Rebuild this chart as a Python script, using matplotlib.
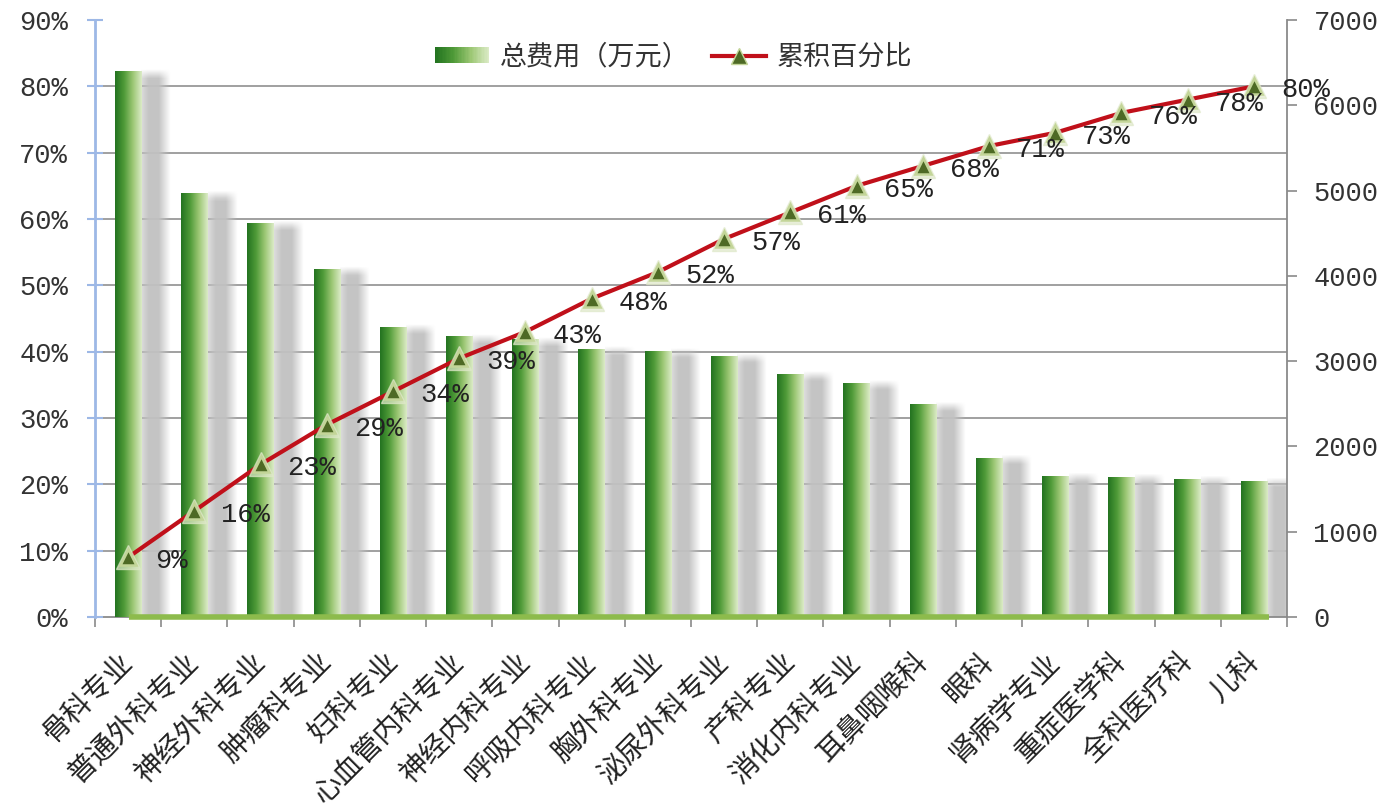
import matplotlib
matplotlib.use("Agg")
import matplotlib.pyplot as plt
import numpy as np
from matplotlib.colors import LinearSegmentedColormap
from matplotlib.patches import Rectangle
from matplotlib.lines import Line2D
from matplotlib.legend_handler import HandlerBase
from matplotlib.ticker import FuncFormatter

plt.rcParams['font.family'] = ['Liberation Mono', 'Noto Sans CJK SC', 'DejaVu Sans']

departments = ['骨科专业', '普通外科专业', '神经外科专业', '肿瘤科专业', '妇科专业',
               '心血管内科专业', '神经内科专业', '呼吸内科专业', '胸外科专业', '泌尿外科专业',
               '产科专业', '消化内科专业', '耳鼻咽喉科', '眼科', '肾病学专业',
               '重症医学科', '全科医疗科', '儿科']
cost = [6394, 4968, 4616, 4080, 3400, 3283, 3248, 3142, 3111, 3060,
        2845, 2740, 2486, 1860, 1645, 1633, 1614, 1594]
cum_pct = [9, 16, 23, 29, 34, 39, 43, 48, 52, 57, 61, 65, 68, 71, 73, 76, 78, 80]

bar_cmap = LinearSegmentedColormap.from_list(
    'bar', ['#237320', '#4f9a38', '#9cc774', '#dbebc6'])


class GradientHandler(HandlerBase):
    def create_artists(self, legend, orig_handle, xdescent, ydescent,
                       width, height, fontsize, trans):
        n = 40
        out = []
        for i in range(n):
            r = Rectangle((-xdescent + i * width / n, -ydescent), width / n * 1.05,
                          height, facecolor=bar_cmap(i / (n - 1)), lw=0,
                          transform=trans)
            out.append(r)
        return out


fig = plt.figure(figsize=(13.89, 8.07), dpi=100)
ax = fig.add_axes([0.0684, 0.2354, 0.8582, 0.7398])
ax2 = ax.twinx()

x = np.arange(len(departments))
bw = 0.4
ymax = 7000

# gradient for bars, soft grey shadow on their right
grad = np.linspace(0, 1, 64).reshape(1, -1)
for xi, h in zip(x, cost):
    ax.imshow(grad, extent=(xi - bw / 2, xi + bw / 2, 0, h), aspect='auto',
              cmap=bar_cmap, zorder=3, interpolation='bicubic')
    ny, nx = 120, 40
    top = h + 45
    rgba = np.ones((ny, nx, 4))
    rgba[..., :3] = 0.76
    hx = np.linspace(0, 1, nx)
    ax_alpha = np.clip(np.minimum(0.6 + hx * 1.6, (1 - hx) / 0.4), 0, 1)
    yy = np.linspace(top, 0, ny)
    ramp = np.clip((top - yy) / 110, 0, 1)
    rgba[..., 3] = 0.95 * ramp[:, None] * ax_alpha[None, :]
    ax.imshow(rgba, extent=(xi + bw / 2, xi + bw / 2 + 0.44, 0, top),
              aspect='auto', zorder=2, interpolation='bilinear')
ax.bar(x, cost, width=bw, color='none', lw=0, zorder=3)

# green floor under the bars
ax.plot([0.02, len(x) - 1 + 0.22], [0, 0], color='#8dbb4c', lw=4,
        solid_capstyle='butt', zorder=4, clip_on=False)

ax.set_xlim(-0.5, len(x) - 0.5)
ax.set_ylim(0, ymax)
ax.set_yticks(np.arange(0, ymax + 1, 1000))
ax.yaxis.tick_right()
ax.set_yticks(np.linspace(0, ymax, 10), minor=True)
ax.grid(which='minor', axis='y', color='#a0a0a0', lw=1.4, zorder=1)
ax.tick_params(axis='y', which='minor', length=0, right=False)
ax.tick_params(axis='y', which='major', direction='out', length=7, width=1.2,
               color='#8a8a8a', labelsize=19.5, labelcolor='#333333', pad=12)

ax.set_xticks(x)
ax.set_xticklabels(departments, rotation=45, ha='right', va='center',
                   rotation_mode='anchor', family=['Noto Sans CJK SC'],
                   fontsize=20.5, color='#222222')
ax.set_xticks(np.arange(-0.5, len(x), 1), minor=True)
ax.tick_params(axis='x', which='major', length=0, pad=29)
ax.tick_params(axis='x', which='minor', direction='out', length=7, width=1.2,
               color='#8a8a8a')

ax.spines['top'].set_visible(False)
ax.spines['left'].set_color('#9db8e6')
ax.spines['left'].set_linewidth(2)
ax.spines['right'].set_color('#8a8a8a')
ax.spines['right'].set_linewidth(1.3)
ax.spines['bottom'].set_color('#8a8a8a')
ax.spines['bottom'].set_linewidth(1.3)

# cumulative share on the left axis
ax2.plot(x, cum_pct, color='#c0101a', lw=3, zorder=5)
ax2.plot(x, cum_pct, ls='none', marker='^', ms=17, color='#dfe8c9',
         alpha=0.7, zorder=6)
ax2.plot(x, cum_pct, ls='none', marker='^', ms=11, markerfacecolor='#4e6a25',
         markeredgecolor='#c3d598', markeredgewidth=1.8, zorder=7)
for xi, p in zip(x, cum_pct):
    ax2.annotate(f'{p}%', (xi, p), xytext=(27, -4), textcoords='offset pixels',
                 ha='left', va='center', fontsize=19.5, color='#222222',
                 zorder=8)

ax2.set_ylim(0, 90)
ax2.set_yticks(np.arange(0, 91, 10))
ax2.yaxis.set_major_formatter(FuncFormatter(lambda v, _: f'{v:.0f}%'))
ax2.yaxis.tick_left()
ax2.tick_params(axis='y', direction='inout', length=11, width=1.5,
                color='#9db8e6', labelsize=19.5, labelcolor='#333333', pad=14)
for s in ax2.spines.values():
    s.set_visible(False)

bar_handle = Rectangle((0, 0), 1, 1)
line_handle = Line2D([], [], color='#c0101a', lw=3, marker='^', ms=11,
                     markerfacecolor='#4e6a25', markeredgecolor='#c3d598')
ax2.legend([bar_handle, line_handle], ['总费用（万元）', '累积百分比'],
           handler_map={Rectangle: GradientHandler()},
           loc='center', bbox_to_anchor=(0.485, 0.929),
           bbox_transform=fig.transFigure, ncol=2, frameon=False,
           prop={'family': ['Noto Sans CJK SC'], 'size': 19.5},
           handlelength=2.0, handleheight=0.5, handletextpad=0.4,
           columnspacing=0.8, labelcolor='#333333')

fig.savefig('out.png', dpi=100)
